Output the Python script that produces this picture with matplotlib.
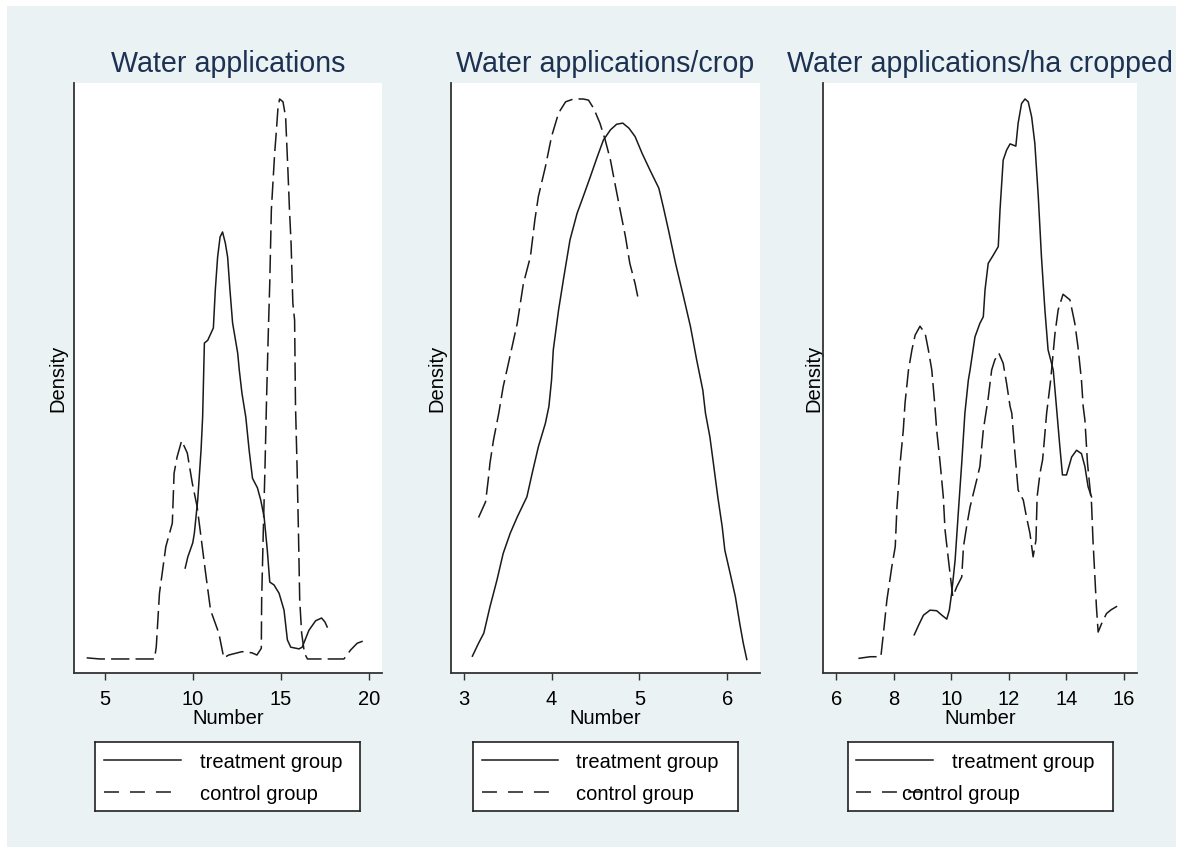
import matplotlib
matplotlib.use("Agg")
import matplotlib.pyplot as plt
from matplotlib.patches import Rectangle

plt.rcParams['font.family'] = ['Liberation Sans', 'DejaVu Sans']

# kernel density curves (y axis has no labels -> relative density)
p1_trt_x = [9.56, 9.71, 9.99, 10.08, 10.27, 10.46, 10.55, 10.65, 10.84, 11.16, 11.27, 11.40, 11.54, 11.68,
            11.84, 11.97, 12.10, 12.25, 12.54, 12.63, 12.78, 13.00, 13.19, 13.38, 13.66, 13.85, 14.04, 14.22,
            14.36, 14.60, 14.89, 15.17, 15.36, 15.55, 16.02, 16.20, 16.58, 16.96, 17.30, 17.49, 17.62]
p1_trt_y = [0.164, 0.184, 0.209, 0.226, 0.285, 0.374, 0.433, 0.565, 0.570, 0.592, 0.660, 0.718, 0.754, 0.763,
            0.743, 0.718, 0.660, 0.601, 0.547, 0.517, 0.476, 0.433, 0.374, 0.324, 0.307, 0.285, 0.255, 0.196,
            0.139, 0.134, 0.119, 0.089, 0.036, 0.023, 0.020, 0.023, 0.053, 0.070, 0.075, 0.068, 0.059]
p1_ctl_x = [3.97, 4.72, 7.82, 7.92, 8.10, 8.46, 8.83, 8.93, 9.10, 9.36, 9.68, 9.96, 10.24, 10.72, 11.00,
            11.47, 11.75, 12.03, 12.78, 13.35, 13.63, 13.88, 13.90, 13.99, 14.09, 14.17, 14.27, 14.36, 14.45,
            14.55, 14.64, 14.74, 14.83, 14.92, 15.11, 15.26, 15.39, 15.48, 15.57, 15.67, 15.77, 15.82, 15.91,
            15.99, 16.06, 16.17, 16.33, 16.50, 18.57, 18.95, 19.32, 19.66]
p1_ctl_y = [0.004, 0.002, 0.002, 0.024, 0.119, 0.202, 0.244, 0.333, 0.362, 0.391, 0.369, 0.316, 0.273, 0.155,
            0.089, 0.048, 0.004, 0.009, 0.015, 0.013, 0.009, 0.021, 0.107, 0.226, 0.344, 0.455, 0.576, 0.672,
            0.802, 0.856, 0.904, 0.945, 0.986, 1.000, 0.995, 0.968, 0.873, 0.802, 0.743, 0.636, 0.606, 0.455,
            0.344, 0.226, 0.107, 0.048, 0.012, 0.002, 0.002, 0.018, 0.030, 0.034]

p2_trt_x = [3.10, 3.17, 3.23, 3.30, 3.38, 3.45, 3.53, 3.61, 3.72, 3.78, 3.85, 3.93, 3.97, 4.00, 4.02, 4.08,
            4.14, 4.21, 4.29, 4.36, 4.44, 4.52, 4.59, 4.67, 4.74, 4.81, 4.88, 4.95, 5.03, 5.12, 5.22, 5.27,
            5.33, 5.41, 5.50, 5.58, 5.65, 5.72, 5.75, 5.80, 5.84, 5.89, 5.94, 5.97, 6.03, 6.09, 6.14, 6.18, 6.22]
p2_trt_y = [0.007, 0.030, 0.048, 0.095, 0.143, 0.190, 0.226, 0.255, 0.291, 0.333, 0.380, 0.422, 0.452, 0.499,
            0.553, 0.624, 0.683, 0.749, 0.796, 0.826, 0.861, 0.897, 0.927, 0.945, 0.955, 0.957, 0.948, 0.933,
            0.903, 0.873, 0.841, 0.808, 0.766, 0.707, 0.648, 0.594, 0.535, 0.481, 0.440, 0.398, 0.351, 0.291,
            0.238, 0.196, 0.155, 0.113, 0.065, 0.030, 0.001]
p2_ctl_x = [3.17, 3.25, 3.28, 3.30, 3.34, 3.40, 3.45, 3.51, 3.61, 3.68, 3.76, 3.81, 3.85, 3.93, 4.00, 4.08,
            4.16, 4.25, 4.36, 4.42, 4.48, 4.55, 4.61, 4.67, 4.72, 4.78, 4.84, 4.89, 4.95, 4.98]
p2_ctl_y = [0.254, 0.282, 0.321, 0.351, 0.392, 0.440, 0.487, 0.529, 0.600, 0.671, 0.719, 0.784, 0.826, 0.879,
            0.933, 0.975, 0.995, 1.000, 1.000, 0.998, 0.983, 0.957, 0.927, 0.891, 0.850, 0.802, 0.755, 0.707,
            0.671, 0.648]

p3_trt_x = [8.71, 8.86, 9.03, 9.26, 9.49, 9.67, 9.84, 9.93, 10.01, 10.13, 10.24, 10.36, 10.47, 10.59, 10.65,
            10.82, 10.99, 11.11, 11.17, 11.28, 11.46, 11.63, 11.69, 11.80, 11.92, 12.04, 12.24, 12.32, 12.44,
            12.56, 12.67, 12.79, 12.90, 13.02, 13.13, 13.25, 13.36, 13.54, 13.66, 13.77, 13.86, 14.00, 14.18,
            14.35, 14.52, 14.64, 14.75, 14.87]
p3_trt_y = [0.045, 0.062, 0.080, 0.089, 0.088, 0.080, 0.073, 0.089, 0.119, 0.178, 0.262, 0.351, 0.440, 0.499,
            0.517, 0.576, 0.600, 0.612, 0.660, 0.707, 0.722, 0.737, 0.802, 0.891, 0.909, 0.920, 0.916, 0.957,
            0.992, 1.000, 0.995, 0.968, 0.921, 0.826, 0.719, 0.624, 0.553, 0.517, 0.446, 0.380, 0.330, 0.330,
            0.362, 0.374, 0.368, 0.345, 0.309, 0.291]
p3_ctl_x = [6.77, 7.18, 7.55, 7.64, 7.76, 7.93, 8.05, 8.11, 8.22, 8.33, 8.39, 8.51, 8.63, 8.74, 8.91, 9.09,
            9.20, 9.32, 9.43, 9.49, 9.61, 9.72, 9.78, 9.90, 9.98, 10.05, 10.19, 10.36, 10.42, 10.53, 10.65,
            10.88, 10.99, 11.11, 11.28, 11.40, 11.51, 11.65, 11.80, 11.92, 12.04, 12.10, 12.21, 12.32, 12.50,
            12.61, 12.73, 12.84, 12.94, 12.98, 13.08, 13.17, 13.21, 13.31, 13.45, 13.60, 13.71, 13.88, 14.12,
            14.29, 14.40, 14.52, 14.58, 14.64, 14.73, 14.81, 14.87, 14.92, 14.98, 15.04, 15.10, 15.22, 15.39,
            15.56, 15.76]
p3_ctl_y = [0.003, 0.006, 0.006, 0.048, 0.107, 0.166, 0.202, 0.273, 0.351, 0.410, 0.458, 0.517, 0.553, 0.579,
            0.595, 0.582, 0.553, 0.517, 0.452, 0.410, 0.351, 0.291, 0.232, 0.178, 0.143, 0.113, 0.131, 0.148,
            0.202, 0.238, 0.273, 0.321, 0.345, 0.410, 0.467, 0.517, 0.535, 0.547, 0.529, 0.493, 0.452, 0.440,
            0.368, 0.303, 0.285, 0.255, 0.226, 0.184, 0.214, 0.291, 0.333, 0.357, 0.380, 0.440, 0.499, 0.582,
            0.624, 0.652, 0.642, 0.600, 0.558, 0.499, 0.452, 0.428, 0.351, 0.309, 0.279, 0.214, 0.155, 0.095,
            0.050, 0.065, 0.083, 0.090, 0.096]

titles = ['Water applications', 'Water applications/crop', 'Water applications/ha cropped']
xticks = [[5, 10, 15, 20], [3, 4, 5, 6], [6, 8, 10, 12, 14, 16]]
xlims = [(3.25, 20.73), (2.857, 6.37), (5.54, 16.45)]
series_names = ['treatment group', 'control group']

W, H = 1177, 850
BG = '#EAF2F3'
INK = '#1a1a1a'


def px_rect(l, t, r, b):
    return [l / W, 1 - b / H, (r - l) / W, (b - t) / H]


# layout in pixels: plot area, legend box, legend swatch/text x positions
axes_px = [(74, 83, 382, 673), (451, 83, 760, 673), (823, 83, 1137, 673)]
legend_px = [(95, 742, 360, 811), (473, 742, 738, 811), (848, 742, 1113, 811)]
swatch_px = [((104, 181), (104, 172), 200, 200),
             ((482, 558), (482, 558), 576, 576),
             ((856, 933), (856, 927), 952, 902)]
ylabel_x = [-0.02, -0.016, 0.0]

curves = [(p1_trt_x, p1_trt_y, p1_ctl_x, p1_ctl_y),
          (p2_trt_x, p2_trt_y, p2_ctl_x, p2_ctl_y),
          (p3_trt_x, p3_trt_y, p3_ctl_x, p3_ctl_y)]

fig = plt.figure(figsize=(W / 100, H / 100), dpi=100, facecolor='white')
fig.patches.append(Rectangle((7 / W, 3 / H), 1169 / W, 841 / H, transform=fig.transFigure,
                             facecolor=BG, edgecolor='none', zorder=-10))

for i in range(3):
    ax = fig.add_axes(px_rect(*axes_px[i]))
    tx, ty, cx, cy = curves[i]
    ax.plot(tx, ty, color=INK, lw=1.1, solid_joinstyle='round')
    ax.plot(cx, cy, color=INK, lw=1.1, dashes=(12, 4))
    ax.set_xlim(*xlims[i])
    ax.set_ylim(-0.023, 1.0285)
    ax.set_xticks(xticks[i])
    ax.set_yticks([])
    for s in ['top', 'right']:
        ax.spines[s].set_visible(False)
    for s in ['left', 'bottom']:
        ax.spines[s].set_color('#333333')
        ax.spines[s].set_linewidth(1.3)
    ax.tick_params(axis='x', length=5, width=1, color='#333333', pad=7, labelsize=14.5)
    ax.set_title(titles[i], fontsize=20.6, color='#1d3152', pad=8)
    ax.set_xlabel('Number', fontsize=14.5, labelpad=0)
    ax.set_ylabel('Density', fontsize=14.5)
    ax.yaxis.set_label_coords(ylabel_x[i], 0.5)

    # legend box
    l, t, r, b = legend_px[i]
    lax = fig.add_axes(px_rect(l, t, r, b))
    lax.set_xlim(0, r - l)
    lax.set_ylim(b - t, 0)
    lax.set_xticks([])
    lax.set_yticks([])
    for s in lax.spines.values():
        s.set_color('#222222')
        s.set_linewidth(1.2)
    (s0, s1), (d0, d1), tt, ct = swatch_px[i]
    lax.plot([s0 - l, s1 - l], [18, 18], color=INK, lw=1.1)
    lax.plot([d0 - l, d1 - l], [50, 50], color=INK, lw=1.1, dashes=(9.8, 7.2))
    lax.text(tt - l, 20.5, series_names[0], fontsize=14.5, va='center', ha='left')
    lax.text(ct - l, 52, series_names[1], fontsize=14.5, va='center', ha='left')

fig.savefig('out.png', dpi=100, facecolor=fig.get_facecolor())
